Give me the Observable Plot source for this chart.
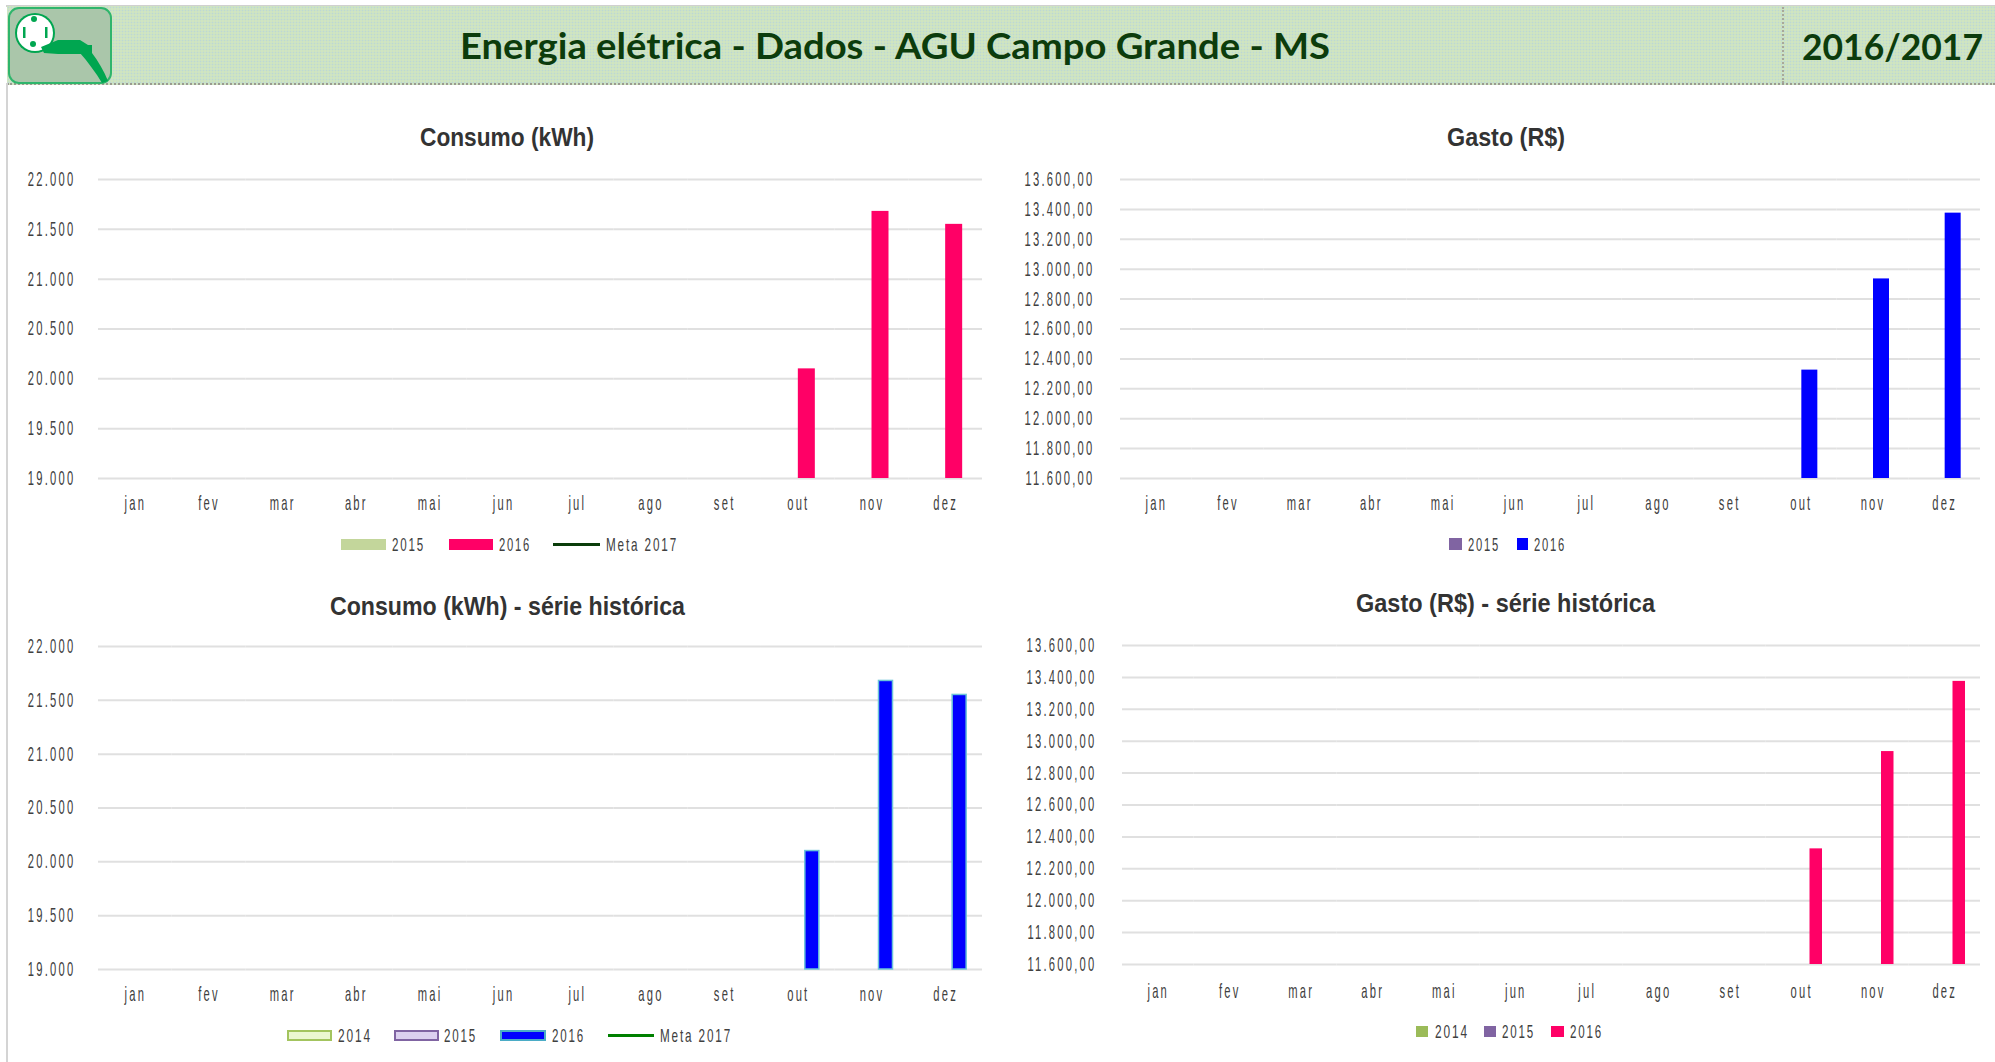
<!DOCTYPE html>
<html lang="pt"><head><meta charset="utf-8">
<script src="https://cdn.jsdelivr.net/npm/d3@7"></script>
<script src="https://cdn.jsdelivr.net/npm/@observablehq/plot@0.6"></script>
<style>
html,body{margin:0;padding:0;background:#fff}
body{width:1995px;height:1062px;position:relative;overflow:hidden}
#stage{position:absolute;left:0;top:0;width:1995px;height:1062px}
.abs{position:absolute}
.fit{position:absolute;white-space:nowrap;transform-origin:0 50%;line-height:1}
#header{position:absolute;left:7px;top:6px;width:1988px;height:77px;background-color:#d0e5c0;
 background-image:radial-gradient(circle at 1.5px 1.5px,#bcd8d4 0.8px,transparent 1.1px);background-size:3px 3px;
 border-bottom:2px dotted #9a9a90;box-sizing:content-box}
#topline{position:absolute;left:6px;top:5px;width:1989px;height:2px;background:#d0d0d0}
#leftline{position:absolute;left:6px;top:83px;width:2px;height:979px;background:#d4d4d4}
#divider{position:absolute;left:1782px;top:7px;height:76px;border-left:2px dotted #a8a89a}
svg text{fill:#404040}
</style></head><body><div id="stage">
<div id="topline"></div><div id="header"></div><div id="leftline"></div><div id="divider"></div>
<svg class="abs" style="left:8px;top:7px" width="104" height="78" viewBox="0 0 104 78">
<rect x="1" y="1" width="102" height="75" rx="10" fill="#aac6aa" stroke="#2fb56c" stroke-width="2"/>
<circle cx="27" cy="26" r="20" fill="#00a650"/><circle cx="27" cy="26" r="18" fill="#fff"/>
<circle cx="26" cy="12" r="3" fill="#00a650"/><circle cx="25" cy="37" r="3" fill="#00a650"/>
<rect x="15" y="20" width="2.500" height="11" fill="#00a650"/><rect x="37" y="20" width="2.500" height="11" fill="#00a650"/>
<path d="M33 40 L50 33 L72 33 L80 38 L84 38 L84 47 L74 47 L50 47 L36 46 Z" fill="#00a650"/>
<path d="M72 46 L84 46 C90 54 96 64 100 74 L94 76 C88 66 80 55 72 46 Z" fill="#00a650"/>
</svg>
<script>
const months = ["jan","fev","mar","abr","mai","jun","jul","ago","set","out","nov","dez"];
const consumo2016 = [null,null,null,null,null,null,null,null,null,20100,21680,21550];
const gasto2016 = [null,null,null,null,null,null,null,null,null,12325,12935,13375];
const consumoTicks = [19000,19500,20000,20500,21000,21500,22000];
const gastoTicks = [11600,11800,12000,12200,12400,12600,12800,13000,13200,13400,13600];
const seriesTwo = ["2015","2016"];
const seriesThree = ["2014","2015","2016"];

const ptInt = v => d3.format(",d")(v).replace(/,/g,".");
const ptDec = v => d3.format(",.2f")(v).replace(/[.,]/g,c=>c==="."?",":".");
const SANS = '"Liberation Sans",sans-serif';
const stage = document.getElementById("stage");

function fitText(txt,x1,x2,cy,size,opt={}){
  const s=document.createElement("span");s.className="fit";s.textContent=txt;
  s.style.fontFamily=opt.font||SANS;s.style.fontSize=size+"px";s.style.fontWeight=opt.weight||400;
  s.style.color=opt.color||"#404040";s.style.left=x1+"px";
  s.style.top=(cy-size/2)+"px";
  if(opt.spacing)s.style.letterSpacing=opt.spacing+"px";
  stage.appendChild(s);
  const w=s.getBoundingClientRect().width;
  s.style.transform=`scaleX(${(x2-x1)/w})`;
}
function chart(c){
  const mL=70,mR=5,mT=8,mB=44;
  const rows=months.map((m,i)=>({month:m,series:"2016",value:c.values[i]}));
  const bw=(c.x1-c.x0)/12;
  const n=c.series.length;
  const step=c.step, padIn=Math.max(0,1-c.barW/step);
  const outer=(bw/step-n+padIn)/2;
  const p=Plot.plot({
    width:c.x1-c.x0+mL+mR,height:c.y1-c.y0+mT+mB,
    marginLeft:mL,marginRight:mR,marginTop:mT,marginBottom:mB,
    style:{background:"transparent",fontFamily:SANS,fontSize:"20px",letterSpacing:"4px",color:"#404040",overflow:"visible"},
    x:{axis:null,domain:c.series,paddingInner:padIn,paddingOuter:outer,align:0.5,round:false},
    fx:{domain:months,padding:0,round:false,axis:"bottom",label:null,tickSize:0,tickPadding:c.fxPad},
    y:{domain:[c.ticks[0],c.ticks[c.ticks.length-1]],ticks:c.ticks,tickFormat:c.fmt,tickSize:0,tickPadding:c.yPad,label:null},
    marks:[
      Plot.gridY(c.ticks,{stroke:"#e0e0e0",strokeOpacity:1,strokeWidth:2}),
      Plot.barY(rows,{fx:"month",x:"series",y1:()=>c.ticks[0],y2:"value",fill:c.fill,stroke:c.stroke||"none",strokeWidth:c.stroke?1.5:0})
    ]
  });
  p.style.position="absolute";p.style.left=(c.x0-mL)+"px";p.style.top=(c.y0-mT)+"px";
  stage.appendChild(p);
  p.querySelectorAll("text").forEach(t=>{
    const old=t.getAttribute("transform")||"";
    t.setAttribute("transform",(old+" scale(0.56,1)").trim());
  });
  fitText(c.title,c.tx[0],c.tx[1],c.ty,26,{weight:700,color:"#333"});
  c.legend.forEach(l=>{
    if(l.line){const d=document.createElement("div");d.className="abs";
      d.style.cssText+=`left:${l.sw[0]}px;top:${l.y-1.5}px;width:${l.sw[1]-l.sw[0]}px;height:3px;background:${l.line}`;stage.appendChild(d);}
    else{const d=document.createElement("div");d.className="abs";
      d.style.cssText+=`box-sizing:border-box;left:${l.sw[0]}px;top:${l.y-l.h/2}px;width:${l.sw[1]-l.sw[0]}px;height:${l.h}px;background:${l.fill};border:${l.border?"2px solid "+l.border:"none"}`;stage.appendChild(d);}
    fitText(l.label,l.t[0],l.t[1],l.y,19,{spacing:3});
  });
}
fitText("Energia elétrica - Dados - AGU Campo Grande - MS",460,1330,45,36,{font:"Lato",weight:700,color:"#0c3c0c"});
fitText("2016/2017",1802,1983,46,36,{font:"Lato",weight:700,color:"#0c3c0c"});

chart({title:"Consumo (kWh)",tx:[420,594],ty:137,x0:98,x1:982,y0:179,y1:478,values:consumo2016,ticks:consumoTicks,fmt:ptInt,
  series:seriesTwo,step:17,barW:17,fill:"#ff0066",fxPad:17,yPad:23,
  legend:[{label:"2015",sw:[341,386],h:11,y:544,fill:"#c3d69b",t:[392,425]},
          {label:"2016",sw:[449,493],h:11,y:544,fill:"#ff0066",t:[499,531]},
          {label:"Meta 2017",sw:[553,600],y:544,line:"#0a3d0a",t:[606,678]}]});
chart({title:"Gasto (R$)",tx:[1447,1565],ty:137,x0:1120,x1:1980,y0:179,y1:478,values:gasto2016,ticks:gastoTicks,fmt:ptDec,
  series:seriesTwo,step:17,barW:16,fill:"#0000ff",fxPad:17,yPad:26,
  legend:[{label:"2015",sw:[1449,1462],h:12,y:544,fill:"#8064a2",t:[1468,1500]},
          {label:"2016",sw:[1517,1528],h:12,y:544,fill:"#0000ff",t:[1534,1566]}]});
chart({title:"Consumo (kWh) - série histórica",tx:[330,685],ty:606,x0:98,x1:982,y0:646,y1:969,values:consumo2016,ticks:consumoTicks,fmt:ptInt,
  series:seriesThree,step:14,barW:14,fill:"#0000ff",stroke:"#6cc4d8",fxPad:17,yPad:23,
  legend:[{label:"2014",sw:[287,332],h:11,y:1035,fill:"#ebf7d0",border:"#a3c45e",t:[338,372]},
          {label:"2015",sw:[394,439],h:11,y:1035,fill:"#dcd0ef",border:"#8064a2",t:[444,477]},
          {label:"2016",sw:[500,546],h:11,y:1035,fill:"#0000ff",border:"#4bacc6",t:[552,585]},
          {label:"Meta 2017",sw:[608,654],y:1035,line:"#008000",t:[660,732]}]});
chart({title:"Gasto (R$) - série histórica",tx:[1356,1655],ty:603,x0:1122,x1:1980,y0:645,y1:964,values:gasto2016,ticks:gastoTicks,fmt:ptDec,
  series:seriesThree,step:14.500,barW:12.500,fill:"#ff0066",fxPad:19,yPad:26,
  legend:[{label:"2014",sw:[1416,1428],h:11,y:1031,fill:"#9bbb59",t:[1435,1469]},
          {label:"2015",sw:[1484,1496],h:11,y:1031,fill:"#8064a2",t:[1502,1535]},
          {label:"2016",sw:[1551,1564],h:11,y:1031,fill:"#ff0066",t:[1570,1603]}]});
</script></div></body></html>
